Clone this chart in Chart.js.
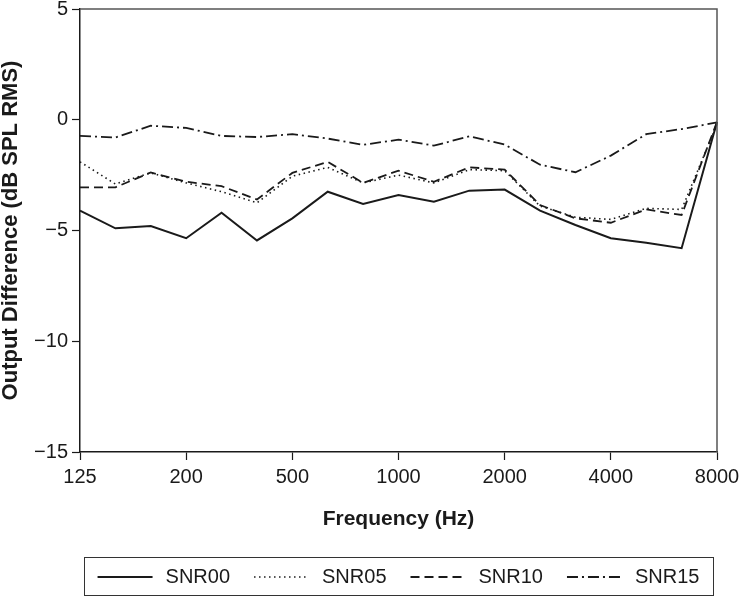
<!DOCTYPE html>
<html>
<head>
<meta charset="utf-8">
<title>Output Difference by Frequency</title>
<script src="https://cdn.jsdelivr.net/npm/chart.js"></script>
<style>
    body { margin: 0; padding: 0; background: #ffffff; }
    #wrap { width: 741px; height: 596px; }
</style>
</head>
<body>
<div id="wrap"><canvas id="chart" width="741" height="596"></canvas></div>
<script>
// third-octave bands (category axis), labels shown every 3rd band
const freqs = ['125', '160', '200', '250', '315', '400', '500', '630', '800', '1000',
               '1250', '1600', '2000', '2500', '3150', '4000', '5000', '6300', '8000'];
const tickLabels = ['125', '200', '500', '1000', '2000', '4000', '8000'];

const snr00 = [-4.1, -4.9, -4.8, -5.35, -4.2, -5.45, -4.45, -3.25, -3.8, -3.4,
               -3.7, -3.2, -3.15, -4.1, -4.75, -5.35, -5.55, -5.8, -0.1];
const snr05 = [-1.9, -2.9, -2.4, -2.85, -3.25, -3.75, -2.55, -2.15, -2.85, -2.5,
               -2.85, -2.25, -2.3, -3.9, -4.4, -4.5, -4.0, -4.05, -0.2];
const snr10 = [-3.05, -3.05, -2.38, -2.8, -3.0, -3.6, -2.4, -1.9, -2.85, -2.3,
               -2.8, -2.15, -2.25, -3.85, -4.45, -4.65, -4.05, -4.3, -0.1];
const snr15 = [-0.73, -0.8, -0.27, -0.37, -0.73, -0.78, -0.65, -0.85, -1.13, -0.9,
               -1.17, -0.75, -1.12, -2.03, -2.37, -1.62, -0.65, -0.42, -0.12];

const FONT = "'Liberation Sans', Arial, sans-serif";
const INK = '#1a1a1a';

function series(label, data, dash, width) {
    return {
        label: label,
        data: data,
        borderColor: INK,
        borderWidth: width,
        borderDash: dash,
        pointRadius: 0,
        fill: false,
        tension: 0
    };
}

// top/right frame of the plot + boxed legend drawn below the axis
const framePlugin = {
    id: 'frame',
    afterDraw(chart) {
        const ctx = chart.ctx;
        const a = chart.chartArea;
        ctx.save();
        ctx.strokeStyle = '#555';
        ctx.lineWidth = 1.5;
        ctx.setLineDash([]);
        ctx.beginPath();
        ctx.moveTo(a.left, a.top);
        ctx.lineTo(a.right, a.top);
        ctx.lineTo(a.right, a.bottom);
        ctx.stroke();

        // legend
        const box = { left: 84, right: 713, top: 557, bottom: 595 };
        ctx.strokeStyle = '#333';
        ctx.lineWidth = 1;
        ctx.strokeRect(box.left + 0.5, box.top + 0.5, box.right - box.left, box.bottom - box.top);

        ctx.font = '20px ' + FONT;
        ctx.fillStyle = INK;
        ctx.textBaseline = 'middle';
        const lineLen = 55, gapText = 13, gapItem = 24;
        const sets = chart.data.datasets;
        let total = 0;
        sets.forEach((d, i) => {
            total += lineLen + gapText + ctx.measureText(d.label).width;
            if (i < sets.length - 1) total += gapItem;
        });
        let x = (box.left + box.right) / 2 - total / 2;
        const y = (box.top + box.bottom) / 2 + 1;
        sets.forEach(d => {
            ctx.strokeStyle = INK;
            ctx.lineWidth = d.borderWidth;
            ctx.setLineDash(d.borderDash || []);
            ctx.beginPath();
            ctx.moveTo(x, y);
            ctx.lineTo(x + lineLen, y);
            ctx.stroke();
            x += lineLen + gapText;
            ctx.fillText(d.label, x, y);
            x += ctx.measureText(d.label).width + gapItem;
        });
        ctx.restore();
    }
};

const ctx = document.getElementById('chart').getContext('2d');
new Chart(ctx, {
    type: 'line',
    data: {
        labels: freqs,
        datasets: [
            series('SNR00', snr00, [], 2),
            series('SNR05', snr05, [1.5, 3.5], 1.6),
            series('SNR10', snr10, [9, 5], 1.8),
            series('SNR15', snr15, [11, 4, 2, 4], 1.8)
        ]
    },
    options: {
        responsive: false,
        animation: false,
        devicePixelRatio: 1,
        layout: { padding: { left: 0, right: 24, top: 0, bottom: 64 } },
        plugins: {
            legend: { display: false },
            tooltip: { enabled: false }
        },
        scales: {
            x: {
                type: 'category',
                offset: false,
                afterFit: s => { s.height = 80; s.paddingRight = 0; s.paddingLeft = 0; },
                border: { display: true, color: INK, width: 1.5 },
                grid: {
                    display: true,
                    drawOnChartArea: false,
                    drawTicks: true,
                    tickLength: 8,
                    tickColor: c => (c.index % 3 === 0 ? INK : 'rgba(0,0,0,0)'),
                    tickWidth: 1.2
                },
                ticks: {
                    autoSkip: false,
                    maxRotation: 0,
                    padding: 5,
                    color: INK,
                    font: { family: FONT, size: 20 },
                    callback: (v, i) => (i % 3 === 0 ? tickLabels[i / 3] : '')
                },
                title: {
                    display: true,
                    text: 'Frequency (Hz)',
                    color: INK,
                    font: { family: FONT, size: 21, weight: 'bold' },
                    padding: { top: 17, bottom: 0 }
                }
            },
            y: {
                min: -15,
                max: 5,
                afterFit: s => { s.width = 80; },
                border: { display: true, color: INK, width: 1.5 },
                grid: {
                    display: true,
                    drawOnChartArea: false,
                    drawTicks: true,
                    tickLength: 8,
                    tickColor: INK,
                    tickWidth: 1.2
                },
                ticks: {
                    stepSize: 5,
                    padding: 4,
                    color: INK,
                    font: { family: FONT, size: 20, lineHeight: 0.5 },
                    callback: v => (v < 0 ? '\u2212' + Math.abs(v) : String(v))
                },
                title: {
                    display: true,
                    text: 'Output Difference (dB SPL RMS)',
                    color: INK,
                    font: { family: FONT, size: 22, weight: 'bold', lineHeight: 1 },
                    padding: { top: 0, bottom: 0 }
                }
            }
        }
    },
    plugins: [framePlugin]
});
</script>
</body>
</html>
